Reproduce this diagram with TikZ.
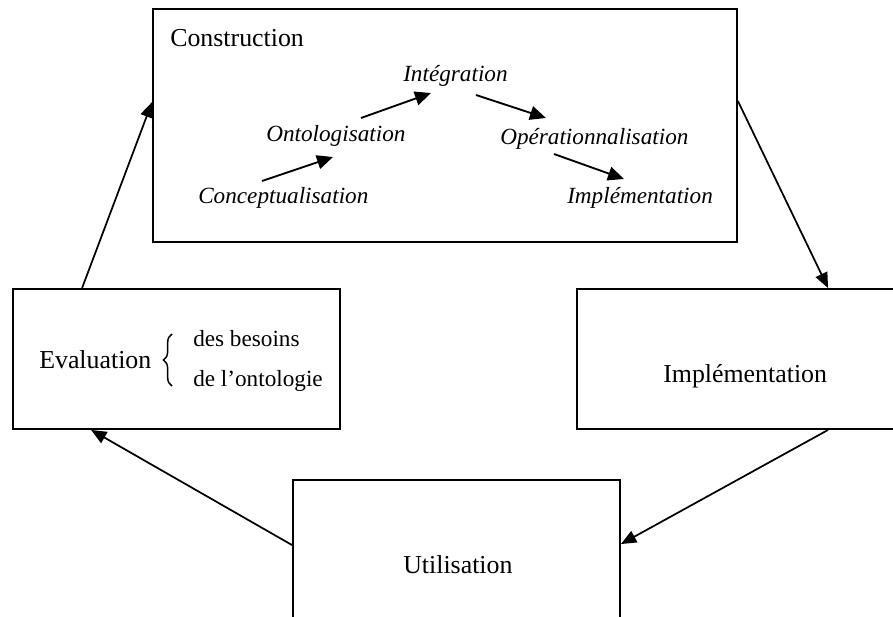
\documentclass[tikz,border=0pt]{standalone}
\usepackage{fontspec}
\setmainfont{Liberation Serif}
\usetikzlibrary{arrows.meta,decorations.pathreplacing}
\begin{document}
\begin{tikzpicture}[x=0.75pt,y=-0.75pt,
  frame/.style 2 args={draw, line width=1.4pt, inner sep=0pt,
    minimum width=#1*0.75pt, minimum height=#2*0.75pt},
  bigtext/.style={font=\fontsize{19.4pt}{23pt}\selectfont, inner sep=0pt, anchor=base west},
  smalltext/.style={font=\fontsize{17.4pt}{21pt}\selectfont, inner sep=0pt, anchor=base west},
  steptext/.style={font=\fontsize{17.4pt}{21pt}\selectfont\itshape, inner sep=0pt, anchor=base west},
  flow/.style={-{Triangle[length=11.5pt,width=9.5pt]}, line width=1.3pt},
  stepflow/.style={-{Triangle[length=12pt,width=10.5pt]}, line width=1.4pt},
  bracket/.style={decorate, decoration={brace, amplitude=6.5pt}, line width=1.1pt}]

\clip (0,0) rectangle (893,617);

% the four phase boxes
\node[frame={584}{233}] (constr) at (445,125.5) {};
\node[frame={327}{140}] (eval)   at (176.5,359) {};
\node[frame={336}{140}] (impl)   at (745,359) {};
\node[frame={327}{170}] (util)   at (456.5,565) {};

% box titles
\node[bigtext] (tconstr) at (170,46.5) {Construction};
\node[bigtext] (timpl)   at (663,382.5) {Implémentation};
\node[bigtext] (tutil)   at (403,573) {Utilisation};
\node[bigtext] (teval)   at (39,368) {Evaluation};
\node[smalltext] (tbes)  at (193,346) {des besoins};
\node[smalltext] (tonto) at (193,386) {de l’ontologie};
\draw[bracket] (172,386) -- (172,334);

% construction steps
\node[steptext] (s1) at (198,203) {Conceptualisation};
\node[steptext] (s2) at (266,142) {Ontologisation};
\node[steptext] (s3) at (403,82)  {Intégration};
\node[steptext] (s4) at (500,144) {Opérationnalisation};
\node[steptext] (s5) at (567,203) {Implémentation};

\draw[stepflow] ([shift={(64,-22)}]s1.base west) -- ([shift={(67,15)}]s2.base west);
\draw[stepflow] ([shift={(95,-24)}]s2.base west) -- ([shift={(28,11)}]s3.base west);
\draw[stepflow] ([shift={(73,13)}]s3.base west) -- ([shift={(46,-26)}]s4.base west);
\draw[stepflow] ([shift={(54,10)}]s4.base west) -- ([shift={(57,-24)}]s5.base west);

% cycle between the phases
\draw[flow] ([shift={(70,0)}]eval.north west) -- ([shift={(0,94)}]constr.north west);
\draw[flow] ([shift={(0,93)}]constr.north east) -- ([shift={(252,0)}]impl.north west);
\draw[flow] ([shift={(252,0)}]impl.south west) -- ([shift={(0,65)}]util.north east);
\draw[flow] ([shift={(0,66)}]util.north west) -- ([shift={(79,0)}]eval.south west);
\end{tikzpicture}
\end{document}
